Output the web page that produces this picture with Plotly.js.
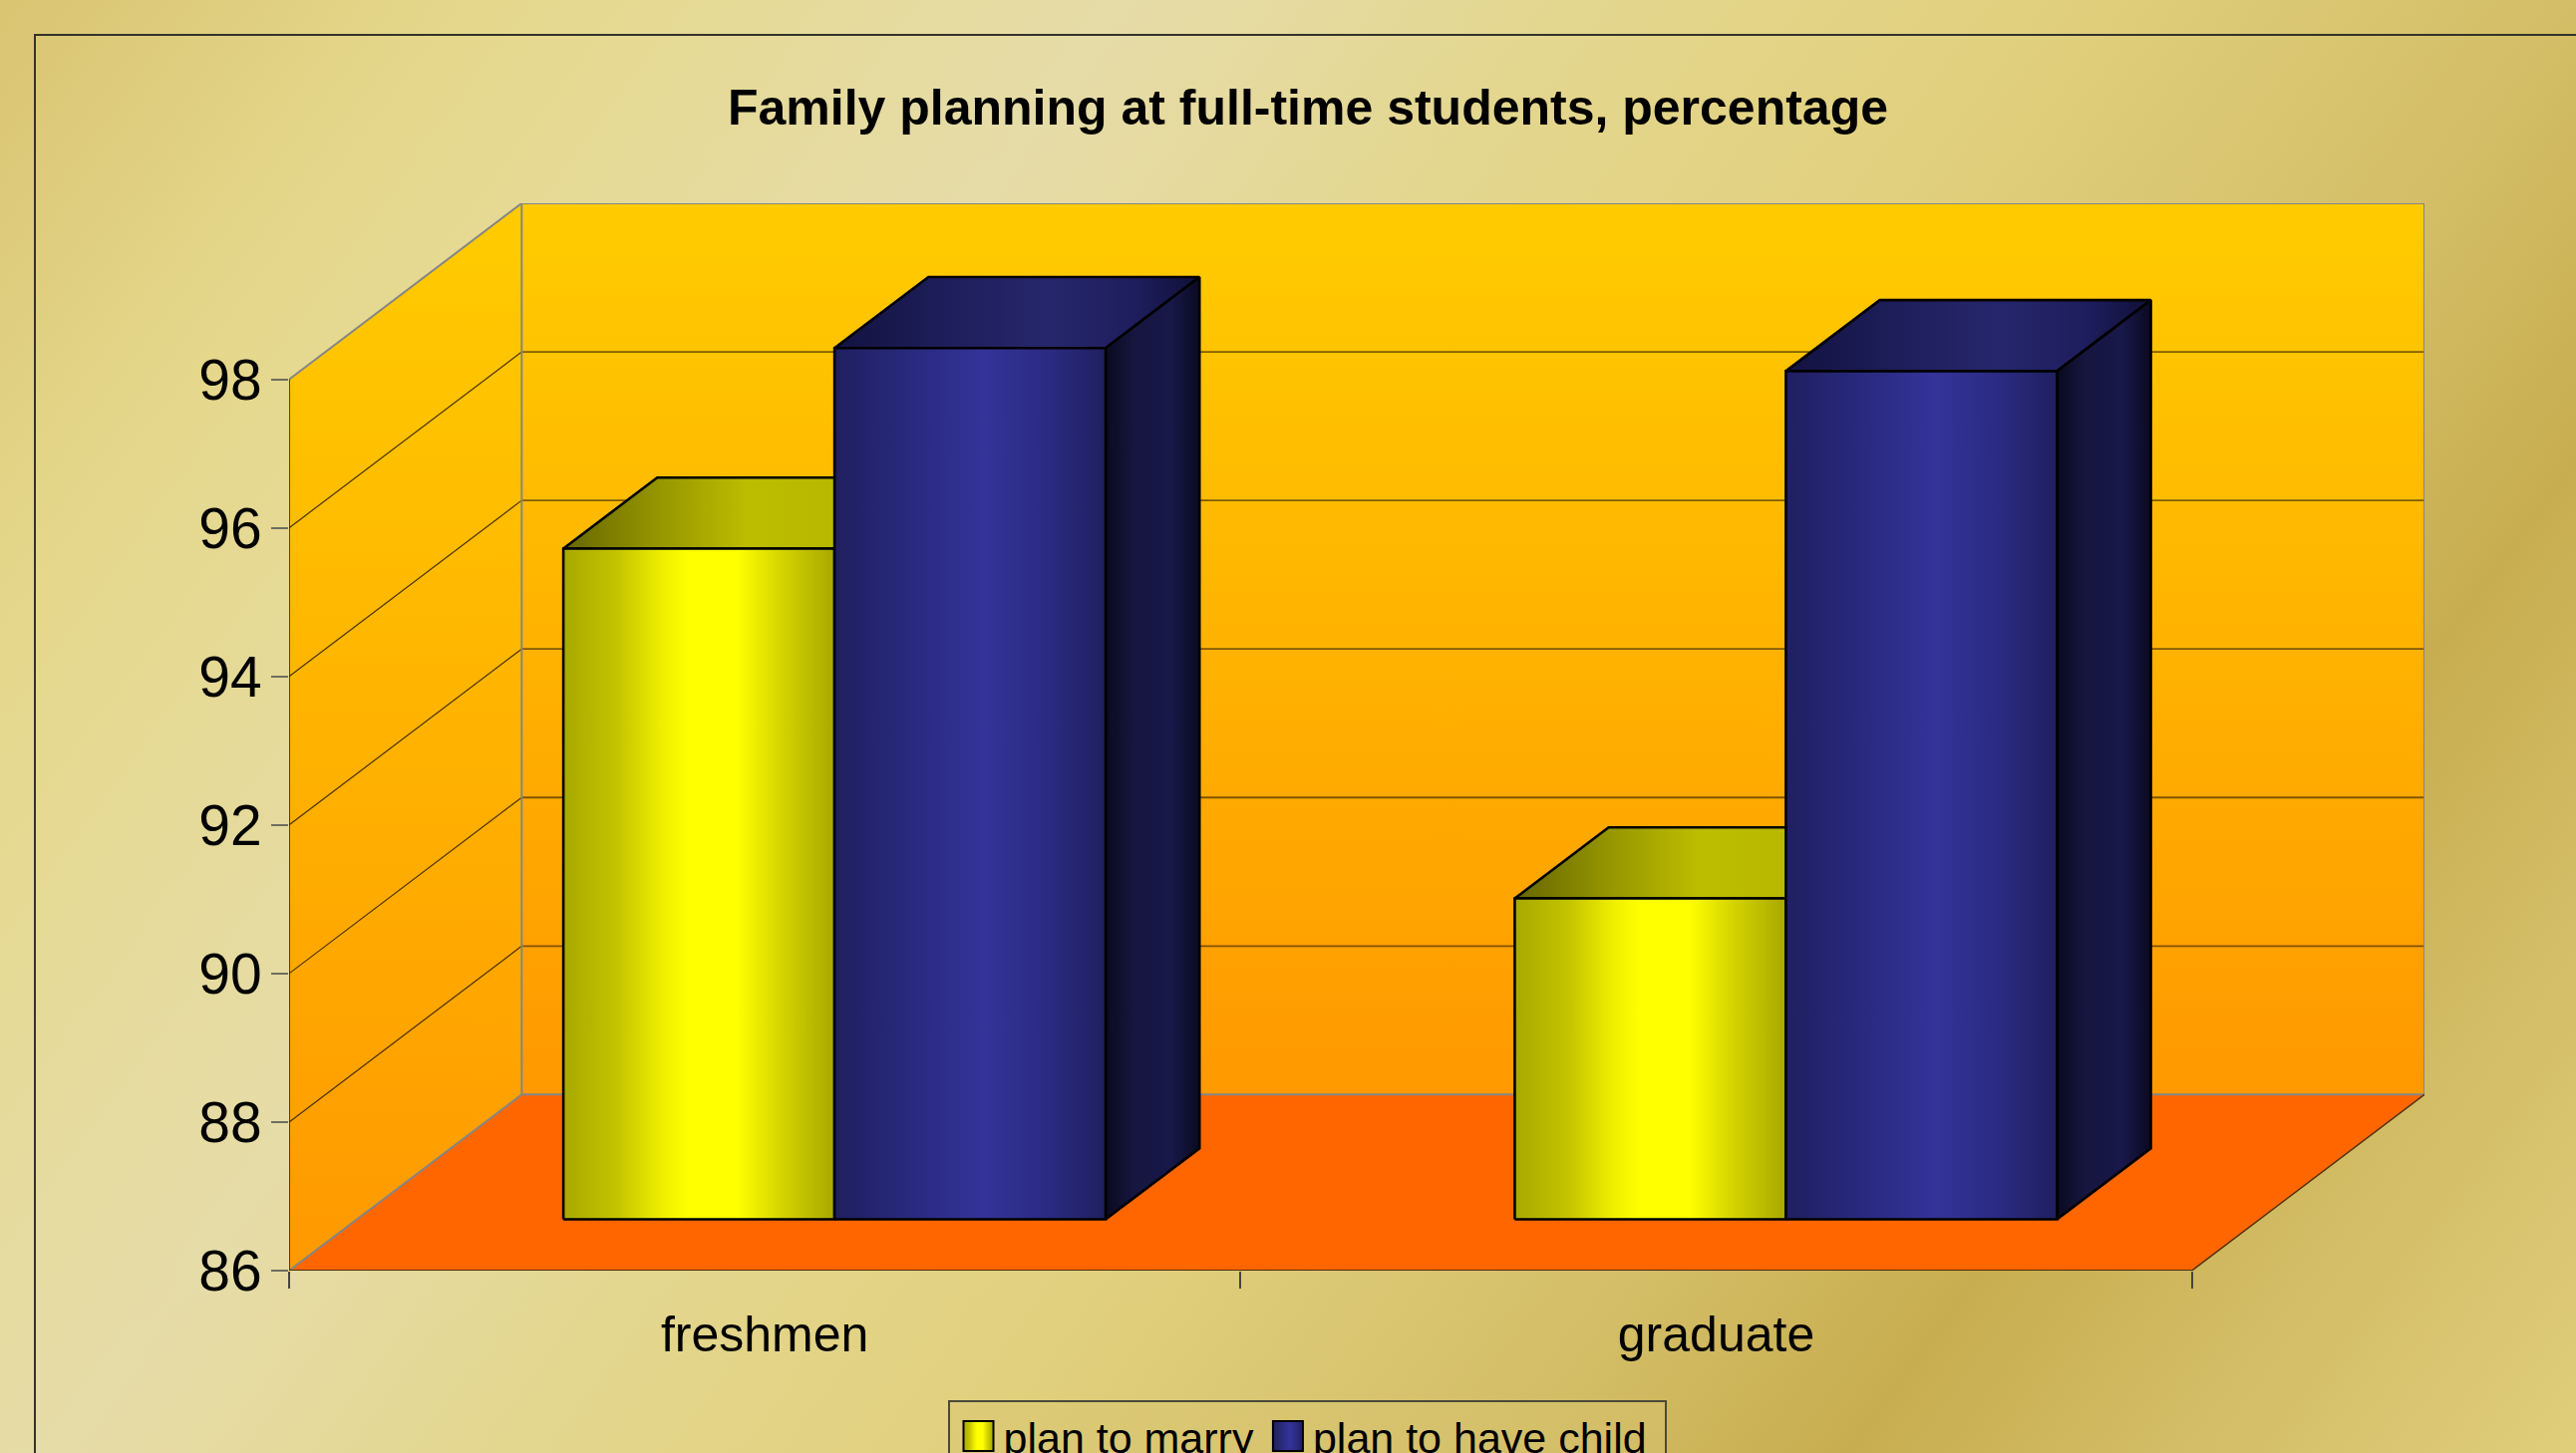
<!DOCTYPE html>
<html>
<head>
<meta charset="utf-8">
<script src="https://cdn.plot.ly/plotly-3.0.1.min.js"></script>
<style>
html,body{margin:0;padding:0;width:2584px;height:1458px;overflow:hidden;
background:linear-gradient(126.3deg,#d9c472 0%,#e5d88c 13%,#e6dca8 31%,#e3d58a 46%,#e1d07e 56%,#d4bf68 70%,#c8ad50 80%,#d3bd66 89%,#e0ce7c 100%);}
#chart{width:2584px;height:1500px;}
</style>
</head>
<body>
<div id="chart"></div>
<script>
var categories = ['freshmen', 'graduate'];
var planToMarry = [95.03, 90.32];
var planToHaveChild = [97.73, 97.42];
var yTicks = [86, 88, 90, 92, 94, 96, 98];
var seriesNames = ['plan to marry', 'plan to have child'];
var titleText = 'Family planning at full-time students, percentage';

var W = 2584, H = 1500;
var L = 290, R = 2432, T = 204, B = 1275;
var YMIN = 86, YMAX = 98;
var DX = 0.2445, DY = 2.37;           // full depth of the floor, in axis units
var BAR_START = 0.217, BAR_W = 0.285; // in category units
var D0 = 0.2915, D1 = 0.695;          // bar front and back, as depth fraction
var FONT = '"Liberation Sans", Arial, sans-serif';

function P(x, y, d) { return [x + d * DX, y + d * DY]; }
function poly(pts, extra) {
  var tr = {
    type: 'scatter', mode: 'lines', fill: 'toself', hoverinfo: 'skip', showlegend: false, cliponaxis: false,
    x: pts.map(function (p) { return p[0]; }).concat([pts[0][0]]),
    y: pts.map(function (p) { return p[1]; }).concat([pts[0][1]]),
    line: { width: 0, color: 'rgba(0,0,0,0)' }
  };
  for (var k in extra) tr[k] = extra[k];
  return tr;
}
function seg(a, b, color, width) {
  return { type: 'scatter', mode: 'lines', hoverinfo: 'skip', showlegend: false, cliponaxis: false,
    x: [a[0], b[0]], y: [a[1], b[1]], line: { color: color, width: width } };
}
function hgrad(scale) { return { type: 'horizontal', colorscale: scale }; }

var xEnd = categories.length;
var wallGrad = { type: 'vertical', colorscale: [[0, '#ff9900'], [1, '#ffcc00']] };
var traces = [];

// floor and walls
traces.push(poly([P(0, YMIN, 0), P(xEnd, YMIN, 0), P(xEnd, YMIN, 1), P(0, YMIN, 1)], { fillcolor: '#ff6600' }));
traces.push(poly([P(0, YMIN, 1), P(xEnd, YMIN, 1), P(xEnd, YMAX, 1), P(0, YMAX, 1)], { fillgradient: wallGrad }));
traces.push(poly([P(0, YMIN, 0), P(0, YMIN, 1), P(0, YMAX, 1), P(0, YMAX, 0)], { fillgradient: wallGrad }));

// gridlines
yTicks.slice(1, -1).forEach(function (v) {
  traces.push(seg(P(0, v, 0), P(0, v, 1), 'rgba(40,25,0,0.85)', 1.2));
  traces.push(seg(P(0, v, 1), P(xEnd, v, 1), 'rgba(60,40,0,0.65)', 1.8));
});

// wall edges
var grey = '#858585';
traces.push(seg(P(0, YMIN, 1), P(0, YMAX, 1), grey, 2));
traces.push(seg(P(0, YMAX, 1), P(xEnd, YMAX, 1), grey, 2));
traces.push(seg(P(xEnd, YMIN, 1), P(xEnd, YMAX, 1), grey, 2));
traces.push(seg(P(0, YMIN, 1), P(xEnd, YMIN, 1), grey, 2));
traces.push(seg(P(0, YMAX, 0), P(0, YMAX, 1), grey, 2));
traces.push(seg(P(0, YMIN, 0), P(0, YMIN, 1), grey, 2));
traces.push(seg(P(xEnd, YMIN, 0), P(xEnd, YMIN, 1), 'rgba(40,25,0,0.8)', 1.5));
traces.push(seg(P(0, YMIN, 0), P(xEnd, YMIN, 0), 'rgba(50,35,10,0.85)', 2));
traces.push(seg(P(0, YMIN, 0), P(0, YMAX, 0), '#222222', 1.6));

// bars
var edge = { color: '#000000', width: 2.6 };
var yellowFront = [[0, '#a8a800'], [0.2, '#c4c400'], [0.36, '#eeee00'], [0.46, '#ffff00'], [0.64, '#ffff00'], [0.82, '#d0d000'], [1, '#a8a800']];
var yellowTop = [[0, '#666600'], [0.25, '#949400'], [0.5, '#bcbc00'], [0.75, '#b8b800'], [1, '#8c8c00']];
var blueFront = [[0, '#1f1f60'], [0.3, '#2a2a80'], [0.55, '#333399'], [0.8, '#2a2a80'], [1, '#1f1f60']];
var blueTop = [[0, '#121240'], [0.3, '#1e1e5a'], [0.58, '#26266c'], [0.82, '#1e1e5e'], [1, '#101038']];
var blueSide = [[0, '#0a0a20'], [0.3, '#16163f'], [0.7, '#18184a'], [1, '#0a0a20']];

function addBar(i, groupIdx, value, front, top, side, name) {
  var x0 = i + BAR_START + groupIdx * BAR_W, x1 = x0 + BAR_W;
  traces.push(poly([P(x0, value, D0), P(x1, value, D0), P(x1, value, D1), P(x0, value, D1)],
    { fillgradient: hgrad(top), line: edge }));
  if (side) {
    traces.push(poly([P(x1, YMIN, D0), P(x1, YMIN, D1), P(x1, value, D1), P(x1, value, D0)],
      { fillgradient: hgrad(side), line: edge }));
  }
  traces.push(poly([P(x0, YMIN, D0), P(x1, YMIN, D0), P(x1, value, D0), P(x0, value, D0)],
    { fillgradient: hgrad(front), line: edge, name: name, legendgroup: name, showlegend: i === 0 }));
}
categories.forEach(function (c, i) {
  addBar(i, 0, planToMarry[i], yellowFront, yellowTop, null, seriesNames[0]);
  addBar(i, 1, planToHaveChild[i], blueFront, blueTop, blueSide, seriesNames[1]);
});

function px(x) { return (x - L) / (R - L); }
function py(y) { return (B - y) / (B - T); }

var layout = {
  width: W, height: H,
  margin: { l: L, r: W - R, t: T, b: H - B, pad: 0, autoexpand: false },
  paper_bgcolor: 'rgba(0,0,0,0)', plot_bgcolor: 'rgba(0,0,0,0)',
  font: { family: FONT, color: '#000000' },
  title: { text: '<b>' + titleText + '</b>', font: { family: FONT, size: 50, color: '#000000' },
    xref: 'container', yref: 'container', x: 1312 / W, xanchor: 'center', y: 1 - 107 / H, yanchor: 'middle', automargin: false },
  xaxis: {
    range: [0, xEnd + DX], autorange: false, showgrid: false, zeroline: false, showline: false, fixedrange: true,
    tickmode: 'array', tickvals: categories.map(function (c, i) { return i + 0.5; }), ticktext: categories,
    ticks: '', tickfont: { family: FONT, size: 50 }, ticklabelstandoff: 30,
    minor: { tickmode: 'array', tickvals: categories.map(function (c, i) { return i; }).concat([xEnd]), ticks: 'outside', ticklen: 17, tickwidth: 1.5, tickcolor: '#444444', showgrid: false }
  },
  yaxis: {
    range: [YMIN, YMAX + DY], autorange: false, showgrid: false, zeroline: false, showline: false, fixedrange: true,
    tickmode: 'array', tickvals: yTicks, ticktext: yTicks.map(String),
    ticks: 'outside', ticklen: 17, tickwidth: 2, tickcolor: '#6e6e5e',
    tickfont: { family: FONT, size: 57 }, ticklabelstandoff: -2
  },
  legend: {
    orientation: 'h', x: px(951), xanchor: 'left', y: py(1405), yanchor: 'top',
    font: { family: FONT, size: 43, color: '#000000' },
    bgcolor: 'rgba(216,196,110,0.45)', bordercolor: '#4a4a3a', borderwidth: 1.5,
    itemwidth: 44, traceorder: 'normal', itemclick: false, itemdoubleclick: false
  },
  shapes: [{ type: 'rect', xref: 'paper', yref: 'paper', layer: 'below',
    x0: px(35), y0: py(35), x1: px(W + 40), y1: py(H + 40), line: { color: '#33332a', width: 2 }, fillcolor: 'rgba(0,0,0,0)' }]
};

Plotly.newPlot('chart', traces, layout, { displayModeBar: false, responsive: false }).then(function (gd) {
  // Legend keys in the reference are tall squares: enlarge Plotly's thin fill key.
  gd.querySelectorAll('.legend .legendfill path').forEach(function (p) {
    p.setAttribute('d', 'M14,-15h30v30h-30z');
    p.style.stroke = '#000';
    p.style.strokeWidth = '2px';
  });
  gd.querySelectorAll('.legend .legendlines path').forEach(function (p) { p.style.display = 'none'; });
  gd.querySelectorAll('.legend rect.bg').forEach(function (r) { r.setAttribute('width', 719); });
  gd.querySelectorAll('.legend .scrollbox').forEach(function (s) { s.removeAttribute('clip-path'); s.style.clipPath = 'none'; });
});
</script>
</body>
</html>
